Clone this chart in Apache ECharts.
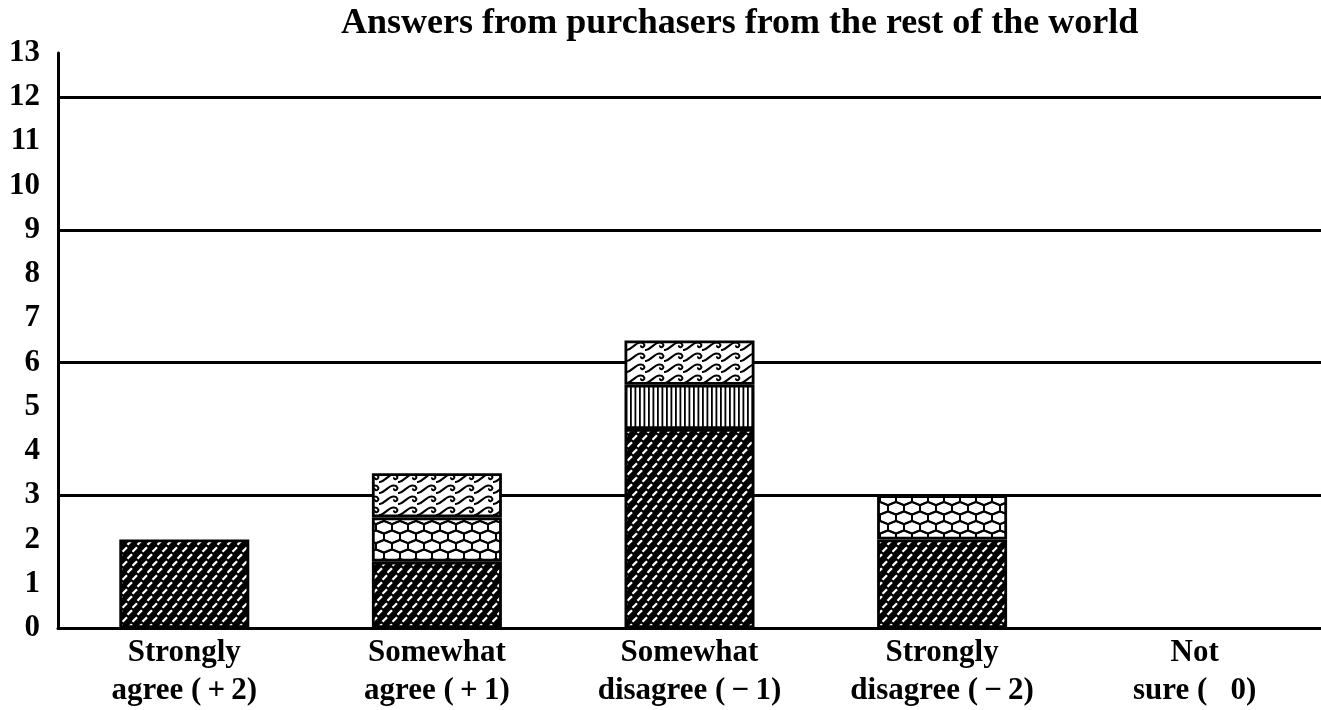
<!DOCTYPE html>
<html>
<head>
<meta charset="utf-8">
<script src="https://cdn.jsdelivr.net/npm/echarts@6/dist/echarts.min.js"></script>
<style>
  html, body { margin: 0; padding: 0; background: #fff; }
  #chart { width: 1321px; height: 710px; }
</style>
</head>
<body>
<div id="chart"></div>
<script>
// Response categories along the x axis
const categories = [
  'Strongly\nagree (\u2009+\u20092)',
  'Somewhat\nagree (\u2009+\u20091)',
  'Somewhat\ndisagree (\u2009\u2212\u20091)',
  'Strongly\ndisagree (\u2009\u2212\u20092)',
  'Not\nsure (   0)'
];

// Stacked segments, bottom to top (null = no segment)
const brickValues     = [2, 1.5, 4.5, 2, null];
const honeycombValues = [null, 1, null, 1, null];
const stripeValues    = [null, null, 1, null, null];
const waveValues      = [null, 1, 1, null, null];

// Y axis range and tick steps
const yMin = 0;
const yMax = 13;
const labelStep = 1;
const gridStep = 3;

const FONT = '"Liberation Serif", "Times New Roman", serif';

function makeTile(w, h, draw) {
  const c = document.createElement('canvas');
  c.width = w; c.height = h;
  const ctx = c.getContext('2d');
  draw(ctx, w, h);
  return { image: c, repeat: 'repeat' };
}

// Black field with short slanted white dashes, staggered row by row
const brickFill = makeTile(10, 14, (ctx, w, h) => {
  ctx.fillStyle = '#000';
  ctx.fillRect(0, 0, w, h);
  ctx.strokeStyle = '#fff';
  ctx.lineWidth = 2.3;
  ctx.lineCap = 'butt';
  const dash = (x, y) => {
    ctx.beginPath();
    ctx.moveTo(x, y + 4.5);
    ctx.lineTo(x + 4.5, y);
    ctx.stroke();
  };
  for (const dx of [-10, 0, 10]) {
    for (const dy of [-14, 0, 14]) {
      dash(2.5 + dx, 1.2 + dy);
      dash(7.5 + dx, 8.2 + dy);
    }
  }
});

// Honeycomb: white cells outlined in black
const honeycombFill = makeTile(16, 19, (ctx, w, h) => {
  ctx.fillStyle = '#fff';
  ctx.fillRect(0, 0, w, h);
  ctx.strokeStyle = '#000';
  ctx.lineWidth = 2;
  const cell = (cx, cy) => {
    ctx.beginPath();
    ctx.moveTo(cx, cy - 6.33);
    ctx.lineTo(cx + 8, cy - 3.17);
    ctx.lineTo(cx + 8, cy + 3.17);
    ctx.lineTo(cx, cy + 6.33);
    ctx.lineTo(cx - 8, cy + 3.17);
    ctx.lineTo(cx - 8, cy - 3.17);
    ctx.closePath();
    ctx.stroke();
  };
  for (const dx of [-16, 0, 16]) {
    for (const dy of [-19, 0, 19]) {
      cell(8 + dx, 4.75 + dy);
      cell(0 + dx, 14.25 + dy);
    }
  }
});

// Thin vertical rules
const stripeFill = makeTile(9, 4, (ctx, w, h) => {
  ctx.fillStyle = '#fff';
  ctx.fillRect(0, 0, w, h);
  ctx.fillStyle = '#000';
  ctx.fillRect(0, 0, 1.8, h);
  ctx.fillRect(4.5, 0, 1.8, h);
});

// Curling wave crests
const waveFill = makeTile(19, 11, (ctx, w, h) => {
  ctx.fillStyle = '#fff';
  ctx.fillRect(0, 0, w, h);
  ctx.strokeStyle = '#000';
  ctx.lineWidth = 2;
  const wave = (x, y) => {
    ctx.beginPath();
    ctx.moveTo(x - 1, y + 9);
    ctx.bezierCurveTo(x + 5, y + 9, x + 8, y + 1.5, x + 13.5, y + 1.5);
    ctx.bezierCurveTo(x + 17.5, y + 1.5, x + 18.5, y + 5, x + 16, y + 6);
    ctx.bezierCurveTo(x + 14.5, y + 6.5, x + 13.5, y + 5.5, x + 14.5, y + 4.5);
    ctx.stroke();
  };
  for (const dx of [-19, 0, 19]) {
    for (const dy of [-11, 0, 11]) wave(dx, dy);
  }
});

const barStyle = fill => ({
  color: fill,
  borderColor: '#000',
  borderWidth: 2.8
});

const makeSeries = (name, values, fill) => ({
  name,
  type: 'bar',
  stack: 'answers',
  barWidth: 130,
  data: values,
  itemStyle: barStyle(fill),
  emphasis: { disabled: true }
});

const chart = echarts.init(document.getElementById('chart'), null, { renderer: 'canvas' });

chart.setOption({
  animation: false,
  backgroundColor: '#fff',
  title: {
    text: 'Answers from purchasers from the rest of the world',
    left: 336,
    top: 1,
    textStyle: { fontFamily: FONT, fontWeight: 'bold', fontSize: 36, color: '#000' }
  },
  grid: { left: 58, right: -11, top: 53, bottom: 77, containLabel: false },
  xAxis: {
    type: 'category',
    data: categories,
    axisLine: { lineStyle: { color: '#000', width: 3 } },
    axisTick: { show: false },
    axisLabel: {
      interval: 0,
      margin: 6,
      color: '#000',
      fontFamily: FONT,
      fontWeight: 'bold',
      fontSize: 31,
      lineHeight: 38
    }
  },
  yAxis: [
    {
      type: 'value',
      min: yMin,
      max: yMax,
      interval: labelStep,
      axisLine: { show: true, lineStyle: { color: '#000', width: 3 } },
      axisTick: { show: false },
      splitLine: { show: false },
      axisLabel: {
        margin: 18,
        color: '#000',
        fontFamily: FONT,
        fontWeight: 'bold',
        fontSize: 31
      }
    },
    {
      type: 'value',
      position: 'left',
      min: yMin,
      max: yMax,
      interval: gridStep,
      axisLine: { show: false },
      axisTick: { show: false },
      axisLabel: { show: false },
      splitLine: {
        show: true,
        showMinLine: false,
        showMaxLine: false,
        lineStyle: { color: '#000', width: 3 }
      }
    }
  ],
  series: [
    makeSeries('brick', brickValues, brickFill),
    makeSeries('honeycomb', honeycombValues, honeycombFill),
    makeSeries('stripes', stripeValues, stripeFill),
    makeSeries('waves', waveValues, waveFill)
  ]
});
</script>
</body>
</html>
